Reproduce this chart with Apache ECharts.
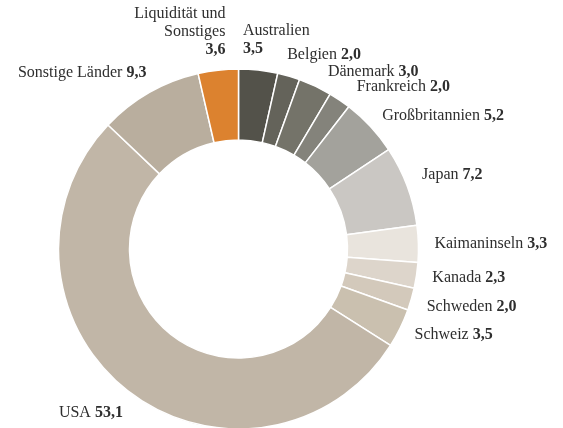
<!DOCTYPE html>
<html>
<head>
<meta charset="utf-8">
<script src="https://cdn.jsdelivr.net/npm/echarts@6/dist/echarts.min.js"></script>
<style>
    html, body { margin: 0; padding: 0; background: #fff; }
    #chart { width: 563px; height: 428px; }
</style>
</head>
<body>
<div id="chart"></div>
<script>
// Länderaufteilung in %
var names = ['Australien', 'Belgien', 'Dänemark', 'Frankreich', 'Großbritannien', 'Japan',
    'Kaimaninseln', 'Kanada', 'Schweden', 'Schweiz', 'USA', 'Sonstige Länder', 'Liquidität und Sonstiges'];
var values = [3.5, 2.0, 3.0, 2.0, 5.2, 7.2, 3.3, 2.3, 2.0, 3.5, 53.1, 9.3, 3.6];

// Farben je Segment
var colors = ['#53524a', '#64635a', '#747369', '#84837b', '#a3a29c', '#cac7c3',
    '#e9e4dd', '#ddd5cb', '#d3c9bb', '#cac0af', '#c1b6a7', '#b9ae9e', '#dc822f'];

// kleine Korrekturen der Beschriftung [dx, dy]
var labelShift = {
    0: [-17, -14],
    1: [-6, -6],
    2: [6, 0],
    3: [8, 0],
    5: [0, -5],
    8: [0, 3],
    10: [5, 9],
    11: [5, -6],
    12: [9, -22]
};

function fmt(v) {
    return v.toFixed(1).replace('.', ',');
}

var data = [];
for (var i = 0; i < names.length; i++) {
    data.push({ name: names[i], value: values[i] });
}

var chart = echarts.init(document.getElementById('chart'));
var option = {
    animation: false,
    color: colors,
    series: [{
        type: 'pie',
        center: [238.5, 249],
        radius: [109, 180],
        startAngle: 90,
        clockwise: true,
        avoidLabelOverlap: false,
        itemStyle: {
            borderColor: '#fff',
            borderWidth: 1.5
        },
        label: {
            show: true,
            position: 'outside',
            distanceToLabelLine: 0,
            overflow: 'none',
            color: '#2e2e2e',
            fontFamily: 'Liberation Serif',
            fontSize: 16,
            formatter: function (p) {
                // Liquidität und Australien mehrzeilig
                if (p.dataIndex == 12) {
                    return '{n|Liquidität und}\n{n|Sonstiges}\n{v|' + fmt(p.value) + '}';
                }
                if (p.dataIndex == 0) {
                    return '{n|' + p.name + '}\n{v|' + fmt(p.value) + '}';
                }
                return '{n|' + p.name + '} {v|' + fmt(p.value) + '}';
            },
            rich: {
                n: { fontFamily: 'Liberation Serif', fontSize: 16, color: '#2e2e2e', lineHeight: 18 },
                v: { fontFamily: 'Liberation Serif', fontSize: 16, color: '#2e2e2e', fontWeight: 'bold', lineHeight: 18 }
            }
        },
        labelLine: {
            show: false,
            length: 16,
            length2: 0
        },
        labelLayout: function (params) {
            var s = labelShift[params.dataIndex];
            if (s) {
                return { dx: s[0], dy: s[1] };
            }
            return {};
        },
        emphasis: { disabled: true },
        data: data
    }]
};
chart.setOption(option);
</script>
</body>
</html>
